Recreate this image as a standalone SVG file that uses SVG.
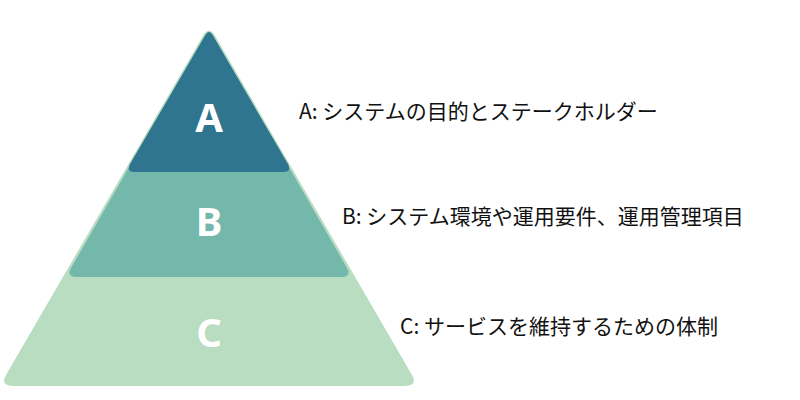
<svg xmlns="http://www.w3.org/2000/svg" width="800" height="400" viewBox="0 0 800 400">
<style>
.lvl{font-family:"Noto Sans","Noto Sans CJK JP",sans-serif;font-weight:700;font-size:40px;fill:#ffffff;text-anchor:middle}
.desc{font-family:"Noto Sans CJK JP","Noto Sans",sans-serif;font-size:21px;fill:#111111}
</style>
<rect width="800" height="400" fill="#ffffff"/>
<g id="layer-c">
<path d="M204,34 Q209,27 214,34 L412,375 Q418,386 405,386 L13,386 Q0,386 6,375 Z" fill="#b9ddc1"/>
<text class="lvl" x="209" y="347">C</text>
</g>
<g id="layer-b">
<path d="M205,35 Q209,29 213,35 L347,268 Q352,277 341,277 L77,277 Q66,277 71,268 Z" fill="#73b8aa"/>
<text class="lvl" x="209" y="236">B</text>
</g>
<g id="layer-a">
<path d="M205.5,35 Q209,29 212.5,35 L288,164 Q292,172 283,172 L135,172 Q126,172 130,164 Z" fill="#30758f"/>
<text class="lvl" x="209" y="132">A</text>
</g>
<g id="connectors"></g>
<g id="labels">
<text class="desc" x="299" y="119">A: システムの目的とステークホルダー</text>
<text class="desc" x="342" y="224">B: システム環境や運用要件、運用管理項目</text>
<text class="desc" x="400" y="334">C: サービスを維持するための体制</text>
</g>
</svg>
